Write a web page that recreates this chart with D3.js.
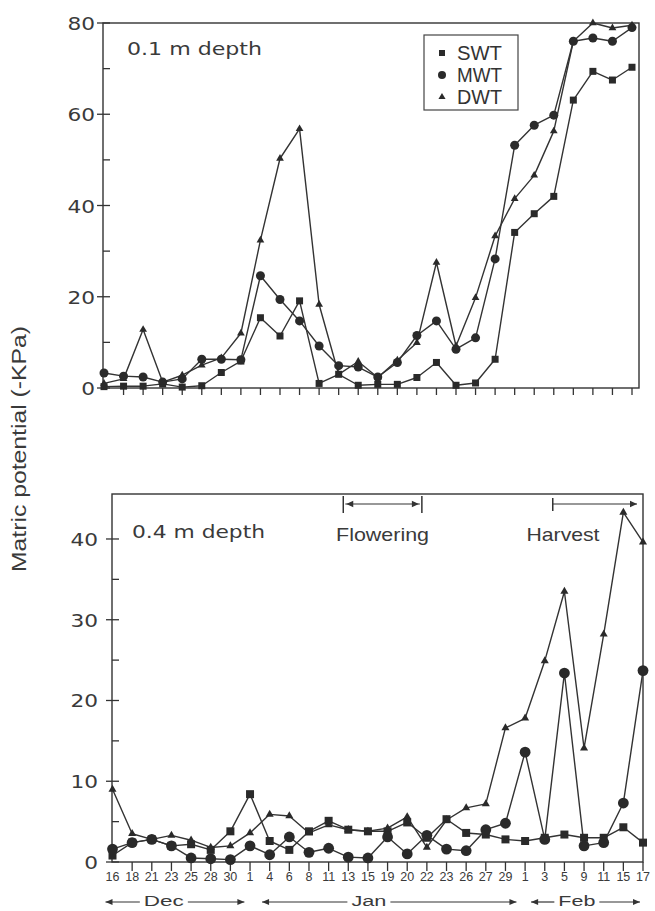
<!DOCTYPE html>
<html><head><meta charset="utf-8">
<script src="https://cdn.jsdelivr.net/npm/d3@7"></script>
<style>html,body{margin:0;padding:0;background:#fff;} svg{display:block;}</style>
</head><body><svg id="c" width="655" height="911"></svg>
<script>
// ---------- data ----------
const dates = ["16","18","21","23","25","28","30","1","4","6","8","11","13","15","19","20","22","23","26","27","29","1","3","5","9","11","15","17"];
const monthNames = ["Dec","Jan","Feb"];
const monthStart = [0, 7, 21];
const monthEnd = [6, 20, 27];
const seriesNames = ["SWT","MWT","DWT"];

const topSWT = [0.3,0.4,0.4,0.9,0.2,0.5,3.4,5.9,15.4,11.4,19.1,1.0,3.0,0.6,0.8,0.8,2.3,5.6,0.6,1.1,6.3,34.1,38.2,42.0,63.1,69.4,67.5,70.3];
const topMWT = [3.3,2.6,2.4,1.3,2.0,6.3,6.3,6.2,24.6,19.4,14.7,9.2,4.9,4.6,2.4,5.6,11.5,14.7,8.5,11.0,28.3,53.2,57.6,59.8,76.0,76.7,76.0,79.0];
const topDWT = [1.0,2.0,12.8,1.3,2.8,5.0,6.6,12.0,32.4,50.3,56.8,18.3,3.0,5.8,2.3,6.1,9.9,27.5,9.2,19.8,33.3,41.5,46.6,56.3,76.0,80.0,78.9,79.5];

const botSWT = [0.8,2.4,2.8,2.0,2.2,1.5,3.8,8.4,2.6,1.5,3.8,5.1,4.0,3.8,3.8,4.9,3.0,5.3,3.6,3.4,2.8,2.6,3.0,3.4,3.0,3.0,4.3,2.4];
const botMWT = [1.6,2.4,2.8,2.0,0.5,0.4,0.3,2.0,0.9,3.1,1.2,1.7,0.6,0.5,3.1,1.0,3.3,1.6,1.4,4.0,4.8,13.6,2.8,23.4,2.0,2.4,7.3,23.7];
const botDWT = [9.0,3.5,2.8,3.3,2.7,1.8,2.0,3.6,5.9,5.7,3.6,4.6,4.0,3.8,4.2,5.6,1.8,5.2,6.7,7.2,16.6,17.8,24.9,33.5,14.1,28.2,43.3,39.6];

const topTicks = [0,20,40,60,80];
const topMinor = [10,30,50,70];
const botTicks = [0,10,20,30,40];
const botMinor = [5,15,25,35];

const phaseNames = ["Flowering","Harvest"];
const phaseStart = [12, 22];
const phaseEnd = [16, 27];

// ---------- drawing ----------
const svg = d3.select("#c");
const ink = "#333";
const markInk = "#2a2a2a";
const idx = d3.range(dates.length);

const panels = [
  {box:[103,639,23,388], pts:[104,632], ymax:80, ticks:topTicks, minor:topMinor,
   series:[topSWT,topMWT,topDWT], title:"0.1 m depth", titleX:127, titleY:55, titleW:135,
   labRight:95, sq:7, cr:4.5, tri:26, xlabels:false},
  {box:[112,643,494,862], pts:[112.5,643], ymax:45.57, ticks:botTicks, minor:botMinor,
   series:[botSWT,botMWT,botDWT], title:"0.4 m depth", titleX:132, titleY:538, titleW:133,
   labRight:98, sq:8, cr:5.4, tri:28, xlabels:true}
];

panels.forEach((p, pi) => {
  const [L,R,T,B] = p.box;
  const x = d3.scalePoint().domain(idx).range(p.pts);
  const y = d3.scaleLinear().domain([0,p.ymax]).range([B,T]);
  p.x = x; p.y = y;
  const g = svg.append("g");

  // frame
  g.append("rect").attr("x",L).attr("y",T).attr("width",R-L).attr("height",B-T)
    .attr("fill","none").attr("stroke",ink).attr("stroke-width",1.4);

  // y ticks
  g.selectAll(".maj").data(p.ticks).join("line")
    .attr("x1",L-6).attr("x2",L+7).attr("y1",d=>y(d)).attr("y2",d=>y(d))
    .attr("stroke",ink).attr("stroke-width",1.3);
  g.selectAll(".min").data(p.minor).join("line")
    .attr("x1",L).attr("x2",L+7).attr("y1",d=>y(d)).attr("y2",d=>y(d))
    .attr("stroke",ink).attr("stroke-width",1.3);
  g.selectAll(".ylab").data(p.ticks).join("text")
    .attr("x",p.labRight).attr("y",d=>y(d)+7)
    .attr("text-anchor","end")
    .attr("font-family","DejaVu Sans, sans-serif").attr("font-size",18.5)
    .attr("fill","#3a3a3a")
    .attr("textLength",d=>String(d).length*13.8).attr("lengthAdjust","spacingAndGlyphs")
    .text(d=>d);

  // x ticks
  g.selectAll(".xt").data(idx.slice(1)).join("line")
    .attr("x1",d=>x(d)).attr("x2",d=>x(d)).attr("y1",B).attr("y2",B+(pi?9:7))
    .attr("stroke",ink).attr("stroke-width",1.3);

  if (p.xlabels) {
    g.selectAll(".xl").data(idx).join("text")
      .attr("x",d=>x(d)).attr("y",B+19)
      .attr("text-anchor","middle")
      .attr("font-family","Liberation Sans, Arial, sans-serif").attr("font-size",12.5)
      .attr("fill","#3a3a3a")
      .text(d=>dates[d]);
  }

  // lines
  const line = d3.line().x((d,i)=>x(i)).y(d=>y(d));
  p.series.forEach(s => {
    g.append("path").attr("d",line(s)).attr("fill","none")
      .attr("stroke",ink).attr("stroke-width",1.4).attr("stroke-linejoin","round");
  });

  // markers
  const sqSym = d3.symbol().type(d3.symbolSquare).size(p.sq*p.sq);
  const triSym = d3.symbol().type(d3.symbolTriangle).size(p.tri);
  g.selectAll(".s0").data(p.series[0]).join("path")
    .attr("d",sqSym).attr("transform",(d,i)=>`translate(${x(i)},${y(d)})`).attr("fill",markInk);
  g.selectAll(".s1").data(p.series[1]).join("circle")
    .attr("cx",(d,i)=>x(i)).attr("cy",d=>y(d)).attr("r",p.cr).attr("fill",markInk);
  g.selectAll(".s2").data(p.series[2]).join("path")
    .attr("d",triSym).attr("transform",(d,i)=>`translate(${x(i)},${y(d)})`).attr("fill",markInk);

  // panel title
  g.append("text").attr("x",p.titleX).attr("y",p.titleY)
    .attr("font-family","DejaVu Sans, sans-serif").attr("font-size",18.5).attr("fill","#3a3a3a")
    .attr("textLength",p.titleW).attr("lengthAdjust","spacingAndGlyphs")
    .text(p.title);
});

// legend (top panel)
{
  const lg = svg.append("g");
  lg.append("rect").attr("x",424).attr("y",35).attr("width",94).attr("height",75)
    .attr("fill","#fff").attr("stroke","#444").attr("stroke-width",1.2);
  const ys = [53,75,97];
  seriesNames.forEach((n,i)=>{
    const cy = ys[i];
    if (i===0) lg.append("rect").attr("x",439).attr("y",cy-3).attr("width",6).attr("height",6).attr("fill",markInk);
    if (i===1) lg.append("circle").attr("cx",442).attr("cy",cy).attr("r",4).attr("fill",markInk);
    if (i===2) lg.append("path").attr("d",d3.symbol().type(d3.symbolTriangle).size(22)()).attr("transform",`translate(442,${cy})`).attr("fill",markInk);
    lg.append("text").attr("x",457).attr("y",cy+7)
      .attr("font-family","Liberation Sans, Arial, sans-serif").attr("font-size",19.5).attr("fill","#333")
      .attr("textLength",45).attr("lengthAdjust","spacingAndGlyphs").text(n);
  });
}

// y axis title
svg.append("text")
  .attr("transform","translate(26,449) rotate(-90)")
  .attr("text-anchor","middle")
  .attr("font-family","Liberation Sans, Arial, sans-serif").attr("font-size",21).attr("fill","#3a3a3a")
  .attr("textLength",246).attr("lengthAdjust","spacingAndGlyphs")
  .text("Matric potential (-KPa)");

// phase brackets (bottom panel)
{
  const x = panels[1].x;
  const g = svg.append("g").attr("stroke",ink).attr("fill",ink);
  const ly = 504;
  const arrow = (tx, dir) => g.append("path")
    .attr("d",`M${tx},${ly} l${-dir*7},-3.2 l0,6.4 z`).attr("stroke","none");
  // Flowering
  const fa = x(phaseStart[0]) - 5, fb = x(phaseEnd[0]) - 5;
  g.append("line").attr("x1",fa).attr("x2",fa).attr("y1",496).attr("y2",513).attr("stroke-width",1.5);
  g.append("line").attr("x1",fb).attr("x2",fb).attr("y1",496).attr("y2",513).attr("stroke-width",1.5);
  g.append("line").attr("x1",fa+2).attr("x2",fb-2).attr("y1",ly).attr("y2",ly).attr("stroke-width",1.2);
  arrow(fa+3,-1); arrow(fb-3,1);
  // Harvest
  const ha = x(phaseStart[1]) + 8, hb = x(phaseEnd[1]) - 6;
  g.append("line").attr("x1",ha).attr("x2",ha).attr("y1",498).attr("y2",511).attr("stroke-width",1.5);
  g.append("line").attr("x1",ha).attr("x2",hb).attr("y1",ly).attr("y2",ly).attr("stroke-width",1.2);
  arrow(hb,1);
  const txt = [[ (fa+fb)/2, 93 ], [ 563, 73 ]];
  phaseNames.forEach((n,i)=>{
    svg.append("text").attr("x",txt[i][0]).attr("y",541).attr("text-anchor","middle")
      .attr("font-family","Liberation Sans, Arial, sans-serif").attr("font-size",18.5).attr("fill","#3a3a3a")
      .attr("textLength",txt[i][1]).attr("lengthAdjust","spacingAndGlyphs").text(n);
  });
}

// month arrows
{
  const x = panels[1].x;
  const pad = [[-7,14],[12,11],[6,-3]];
  const tw = [40,35,37];
  const ay = 902;
  const g = svg.append("g");
  monthNames.forEach((m,i)=>{
    const a = x(monthStart[i]) + pad[i][0], b = x(monthEnd[i]) + pad[i][1];
    const cx = a + 0.42*(b-a);
    const t0 = cx - tw[i]/2 - 4, t1 = cx + tw[i]/2 + 4;
    g.append("line").attr("x1",a).attr("x2",t0).attr("y1",ay).attr("y2",ay).attr("stroke",ink).attr("stroke-width",1.2);
    g.append("line").attr("x1",t1).attr("x2",b).attr("y1",ay).attr("y2",ay).attr("stroke",ink).attr("stroke-width",1.2);
    g.append("path").attr("d",`M${a},${ay} l7,-3 l0,6 z`).attr("fill",ink);
    g.append("path").attr("d",`M${b},${ay} l-7,-3 l0,6 z`).attr("fill",ink);
    g.append("text").attr("x",cx).attr("y",906).attr("text-anchor","middle")
      .attr("font-family","Liberation Sans, Arial, sans-serif").attr("font-size",15.5).attr("fill","#3a3a3a")
      .attr("textLength",tw[i]).attr("lengthAdjust","spacingAndGlyphs").text(m);
  });
}
</script>
</body></html>
